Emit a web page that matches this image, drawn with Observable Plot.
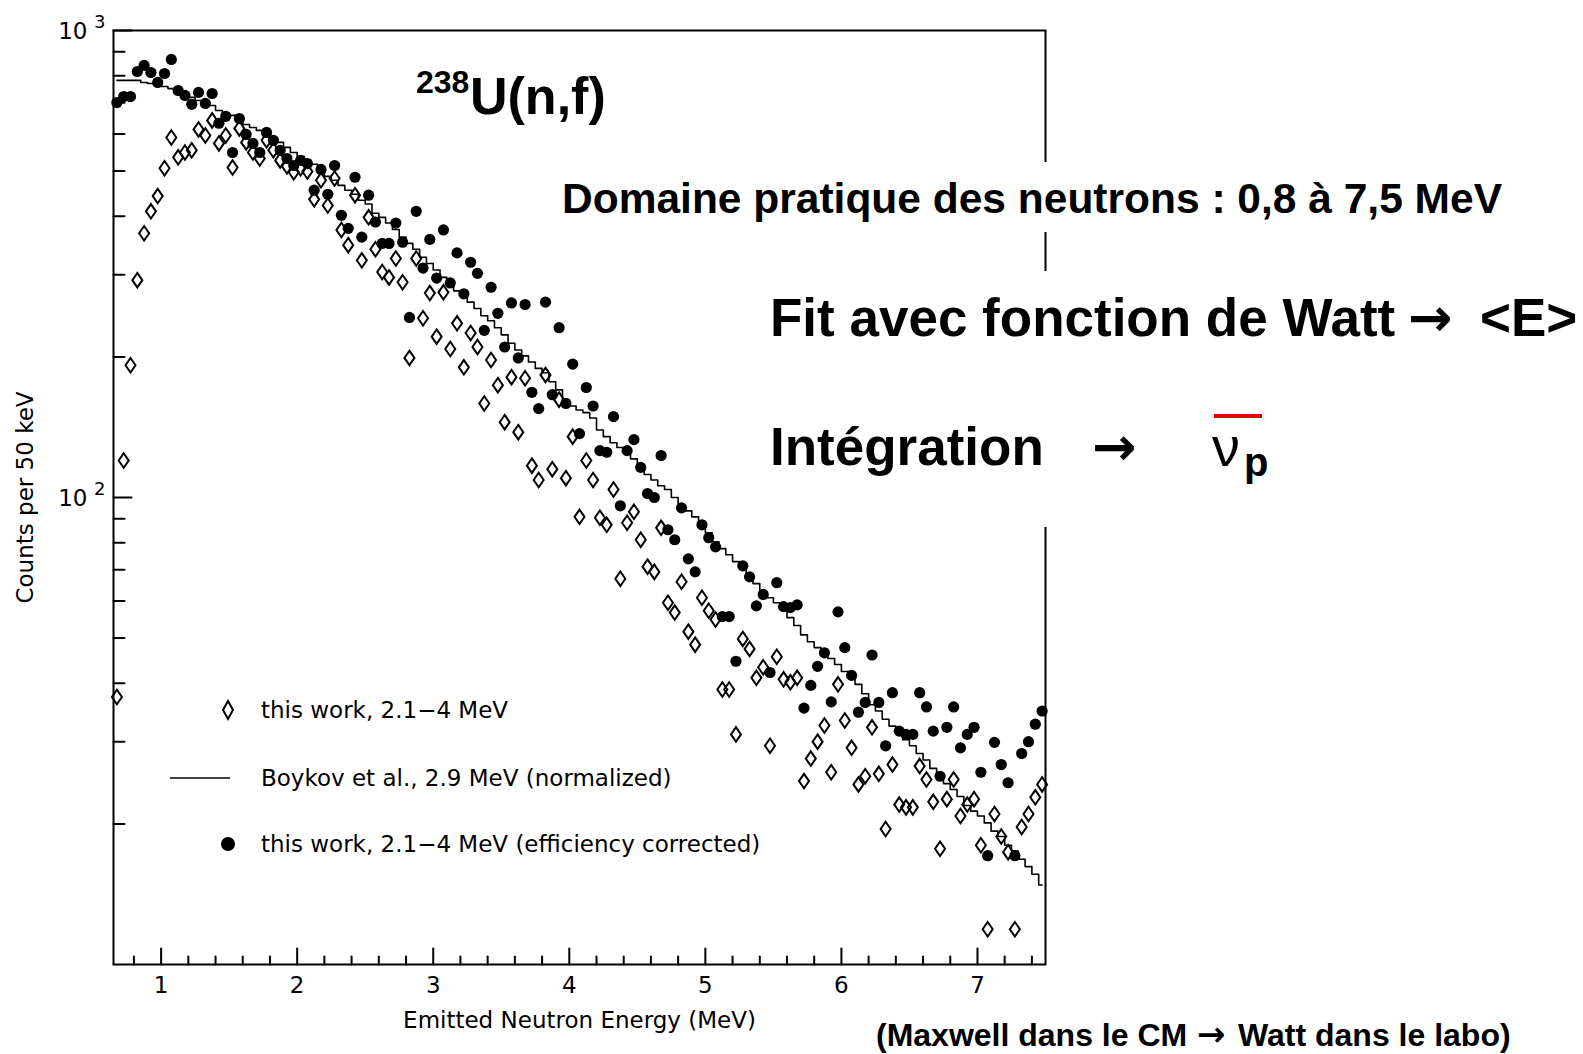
<!DOCTYPE html>
<html><head><meta charset="utf-8">
<script src="https://cdn.jsdelivr.net/npm/d3@7"></script>
<script src="https://cdn.jsdelivr.net/npm/@observablehq/plot@0.6"></script>
<style>
html,body{margin:0;padding:0;background:#fff;}
#wrap{position:relative;width:1583px;height:1054px;overflow:hidden;background:#fff;}
#chart{position:absolute;left:0;top:0;}
#overlay{position:absolute;left:0;top:0;}
</style></head><body>
<div id="wrap"><div id="chart"></div><svg id="overlay" width="1583" height="1054"></svg></div>
<script>
// bin centres (50 keV bins), MeV
const energy = [0.675,0.725,0.775,0.825,0.875,0.925,0.975,1.025,1.075,1.125,1.175,1.225,1.275,1.325,1.375,1.425,1.475,1.525,1.575,1.625,1.675,1.725,1.775,1.825,1.875,1.925,1.975,2.025,2.075,2.125,2.175,2.225,2.275,2.325,2.375,2.425,2.475,2.525,2.575,2.625,2.675,2.725,2.775,2.825,2.875,2.925,2.975,3.025,3.075,3.125,3.175,3.225,3.275,3.325,3.375,3.425,3.475,3.525,3.575,3.625,3.675,3.725,3.775,3.825,3.875,3.925,3.975,4.025,4.075,4.125,4.175,4.225,4.275,4.325,4.375,4.425,4.475,4.525,4.575,4.625,4.675,4.725,4.775,4.825,4.875,4.925,4.975,5.025,5.075,5.125,5.175,5.225,5.275,5.325,5.375,5.425,5.475,5.525,5.575,5.625,5.675,5.725,5.775,5.825,5.875,5.925,5.975,6.025,6.075,6.125,6.175,6.225,6.275,6.325,6.375,6.425,6.475,6.525,6.575,6.625,6.675,6.725,6.775,6.825,6.875,6.925,6.975,7.025,7.075,7.125,7.175,7.225,7.275,7.325,7.375,7.425,7.475];

// this work, 2.1-4 MeV (open diamonds)
const openCounts = [37.4,120,192,292,368,410,442,507,590,535,548,554,614,596,642,573,596,509,617,576,548,532,582,554,527,512,497,507,499,435,478,422,482,374,347,444,322,398,340,304,296,325,289,199,325,242,274,221,275,208,236,190,225,210,159,197,174,145,181,138,180,117,109,183,115,162,110,135,90.9,120,109,90.5,87.4,104,67.0,88.3,93.2,81.2,71.1,69.3,86.1,59.5,56.7,66.0,51.6,48.4,61.0,57.2,54.8,38.8,38.8,31.1,49.8,47.4,41.1,43.3,29.4,45.6,40.8,40.2,41.1,24.7,27.6,30.0,32.5,25.8,39.8,33.3,29.1,24.3,25.3,32.2,25.6,19.5,26.8,22.0,21.7,21.7,26.6,24.9,22.3,17.7,22.6,24.9,20.8,22.0,22.6,18.0,11.9,21.0,18.8,17.4,11.9,19.7,21.0,22.8,24.3];

// this work, 2.1-4 MeV, efficiency corrected (filled dots)
const correctedCounts = [701,722,722,817,842,813,774,809,867,744,726,695,737,698,733,633,655,548,648,599,573,548,605,582,554,532,514,527,519,455,504,446,514,402,377,485,361,444,389,350,350,387,352,243,410,310,357,295,374,288,334,273,319,302,228,282,248,210,261,199,259,168,155,262,166,231,159,193,137,172,157,126,125,149,96,126,133,116,102,100,123,85.3,81.2,95.0,73.9,69.3,87.4,82.0,78.4,55.6,55.6,44.6,71.4,67.6,58.6,62.0,42.2,65.7,58.4,58.1,58.9,35.4,39.6,43.5,46.5,36.5,56.9,47.7,41.6,34.7,36.4,46.0,36.4,29.4,38.2,31.6,31.1,31.1,38.2,35.6,31.6,25.3,32.2,35.6,29.1,31.1,32.2,25.8,17.1,29.9,26.8,24.5,17.1,28.3,30.0,32.7,34.9];

// Boykov et al., 2.9 MeV (normalized), histogram
const boykovCounts = [782,782,782,782,774,770,770,759,751,741,726,719,708,701,691,674,664,658,642,629,620,611,599,587,576,562,548,538,527,517,507,487,478,466,455,446,433,425,406,398,387,375,361,350,340,327,317,307,296,285,277,270,262,254,245,239,231,223,214,207,201,195,189,185,177,170,162,157,154,152,148,139.5,135,131,128,125,121,117,112,109,106,104,100,96.4,93.6,90.9,87.9,84.0,80.4,77.7,75.4,72.9,71.5,68.6,65.4,62.9,61.0,59.5,57.8,55.3,53.2,50.8,49.1,47.7,46.5,45.2,43.9,42.4,41.3,39.8,38.0,36.0,34.9,33.5,32.4,31.6,30.3,29.4,28.3,27.4,26.3,25.3,24.4,23.7,22.9,21.9,21.3,20.8,20.1,19.3,18.8,18.0,17.5,16.8,16.2,15.6,14.8];

const xMajorTicks = [1,2,3,4,5,6,7];
const xMinorTicks = [0.8,1.2,1.4,1.6,1.8,2.2,2.4,2.6,2.8,3.2,3.4,3.6,3.8,4.2,4.4,4.6,4.8,5.2,5.4,5.6,5.8,6.2,6.4,6.6,6.8,7.2,7.4];
const yMajorTicks = [100,1000];
const yMinorTicks = [20,30,40,50,60,70,80,90,200,300,400,500,600,700,800,900];
const yTickBase = ["10","10"];
const yTickExp = ["2","3"];

const xLabel = "Emitted Neutron Energy (MeV)";
const yLabel = "Counts per 50 keV";
const legendLabels = ["this work, 2.1\u22124 MeV","Boykov et al., 2.9 MeV (normalized)","this work, 2.1\u22124 MeV (efficiency corrected)"];

const rows = energy.map((e,i)=>({e, open: openCounts[i], corr: correctedCounts[i], fit: boykovCounts[i]}));
const yLab = yMajorTicks.map((v,i)=>({v, base: yTickBase[i], exp: yTickExp[i]}));

const tallDiamond = {draw(ctx, size){const r=Math.sqrt(size/Math.PI);const w=r*1.0,h=r*1.45;ctx.moveTo(0,-h);ctx.lineTo(w,0);ctx.lineTo(0,h);ctx.lineTo(-w,0);ctx.closePath();}};
const tickShape = {draw(ctx,l){ctx.moveTo(0,0);ctx.lineTo(0,-l);}};

const FONT = "DejaVu Sans";
const plot = Plot.plot({
  width:1583, height:1054,
  marginLeft:113, marginRight:538, marginTop:30, marginBottom:90,
  x:{domain:[0.65,7.5], axis:null},
  y:{type:"log", domain:[10,1000], axis:null},
  style:{fontFamily:FONT, fontSize:"23px", color:"black", background:"white", overflow:"visible"},
  marks:[
    Plot.line(rows,{x:"e", y:"fit", curve:"step", stroke:"black", strokeWidth:1.6}),
    Plot.dot(rows,{x:"e", y:"open", symbol:tallDiamond, r:5, stroke:"black", strokeWidth:2, fill:"none"}),
    Plot.dot(rows,{x:"e", y:"corr", r:5.6, fill:"black", stroke:null}),
    Plot.vector(xMajorTicks,{x:d=>d, frameAnchor:"bottom", length:16, anchor:"start", shape:tickShape, stroke:"black", strokeWidth:2}),
    Plot.vector(xMinorTicks,{x:d=>d, frameAnchor:"bottom", length:8, anchor:"start", shape:tickShape, stroke:"black", strokeWidth:2}),
    Plot.vector(yMajorTicks,{y:d=>d, frameAnchor:"left", length:18, rotate:90, anchor:"start", shape:tickShape, stroke:"black", strokeWidth:2}),
    Plot.vector(yMinorTicks,{y:d=>d, frameAnchor:"left", length:11, rotate:90, anchor:"start", shape:tickShape, stroke:"black", strokeWidth:2}),
    Plot.frame({stroke:"black", strokeWidth:2}),
    Plot.text(xMajorTicks,{x:d=>d, text:d=>String(d), frameAnchor:"bottom", dy:21, lineAnchor:"middle", fontSize:23}),
    Plot.text(yLab,{y:"v", text:"base", frameAnchor:"left", dx:-26, dy:1, textAnchor:"end", lineAnchor:"middle", fontSize:23}),
    Plot.text(yLab,{y:"v", text:"exp", frameAnchor:"left", dx:-8, dy:-8, textAnchor:"end", lineAnchor:"middle", fontSize:18}),
    Plot.text([xLabel],{text:d=>d, frameAnchor:"bottom", dy:56, lineAnchor:"middle", textAnchor:"middle", fontSize:23}),
    Plot.text([yLabel],{text:d=>d, frameAnchor:"left", dx:-88, rotate:-90, lineAnchor:"middle", textAnchor:"middle", fontSize:23})
  ]
});
document.getElementById("chart").appendChild(plot);

// overlay: legend and slide annotations
const ov = d3.select("#overlay");
const SANS = "'Liberation Sans', Arial, sans-serif";
const ARROWF = "'DejaVu Sans', sans-serif";
// legend
const lg = ov.append("g").attr("font-family", FONT).attr("font-size", 23).attr("fill","black");
lg.append("path").attr("d","M228,701L233,710L228,719L223,710Z").attr("fill","none").attr("stroke","black").attr("stroke-width",2);
lg.append("line").attr("x1",170).attr("x2",230).attr("y1",778).attr("y2",778).attr("stroke","black").attr("stroke-width",1.6);
lg.append("circle").attr("cx",228).attr("cy",844).attr("r",7).attr("fill","black");
[710,778,844].forEach((y,i)=>lg.append("text").attr("x",261).attr("y",y).attr("dy","0.35em").text(legendLabels[i]));

// title
const t = ov.append("text").attr("font-family",SANS).attr("font-weight","bold").attr("fill","black");
t.append("tspan").attr("x",416).attr("y",93).attr("font-size",32).text("238");
t.append("tspan").attr("x",470).attr("y",114).attr("font-size",52).text("U(n,f)");

// white boxes (cover frame)
ov.append("rect").attr("x",555).attr("y",162).attr("width",970).attr("height",70).attr("fill","white");
ov.append("rect").attr("x",760).attr("y",271).attr("width",823).attr("height",256).attr("fill","white");

const bold = (x,y,size,txt,fam)=>ov.append("text").attr("x",x).attr("y",y).attr("font-family",fam||SANS).attr("font-weight","bold").attr("font-size",size).attr("fill","black").text(txt);
bold(562,213,42.5,"Domaine pratique des neutrons : 0,8 à 7,5 MeV");
bold(770,336,53,"Fit avec fonction de Watt");
bold(1408,336,53,"\u2192",ARROWF);
bold(1480,336,53,"<E>");
bold(770,465,53,"Intégration");
bold(1092,465,53,"\u2192",ARROWF);
ov.append("text").attr("x",1212).attr("y",466).attr("font-family",SANS).attr("font-size",56).attr("fill","black").text("\u03BD");
bold(1244,476,40,"p");
ov.append("rect").attr("x",1214).attr("y",414).attr("width",48).attr("height",4).attr("fill","#e00000");
bold(876,1046,32,"(Maxwell dans le CM");
bold(1197,1046,34,"\u2192",ARROWF);
bold(1238,1046,32,"Watt dans le labo)");
</script>
</body></html>
